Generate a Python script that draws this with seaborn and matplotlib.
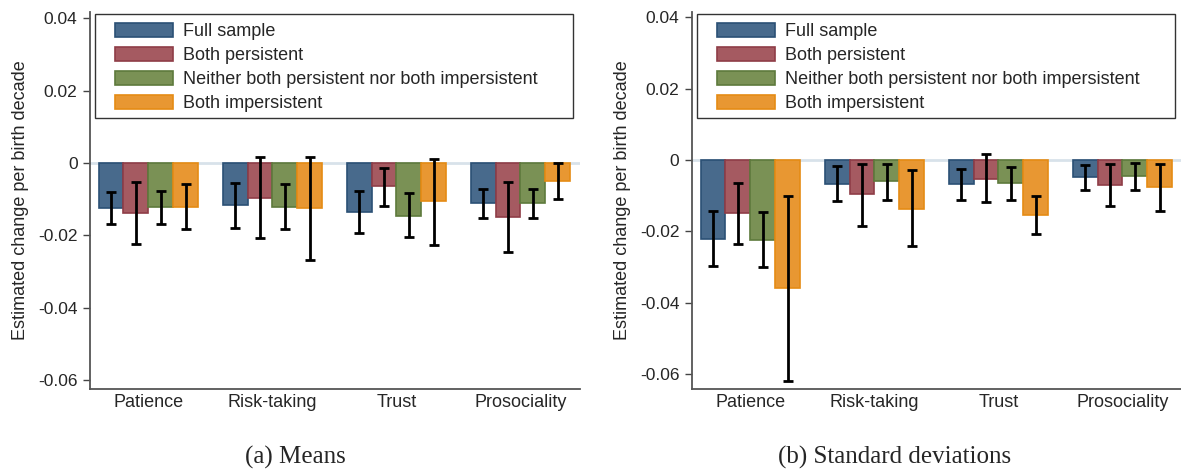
import pandas as pd
import numpy as np
import matplotlib
matplotlib.use("Agg")
import matplotlib.pyplot as plt
from matplotlib.patches import Rectangle
import seaborn as sns

sns.set_style("white")
plt.rcParams['font.family'] = ['Liberation Sans', 'DejaVu Sans']

traits = ["Patience", "Risk-taking", "Trust", "Prosociality"]
groups = ["Full sample", "Both persistent",
          "Neither both persistent nor both impersistent", "Both impersistent"]

# (a) Means: point estimate, lower and upper bound, one list per group
means_est = [[-0.0125, -0.0117, -0.0136, -0.0112],
             [-0.0139, -0.0098, -0.0065, -0.0150],
             [-0.0123, -0.0121, -0.0146, -0.0112],
             [-0.0121, -0.0126, -0.0106, -0.0050]]
means_lo = [[-0.0168, -0.0180, -0.0193, -0.0153],
            [-0.0225, -0.0209, -0.0118, -0.0245],
            [-0.0169, -0.0183, -0.0206, -0.0152],
            [-0.0182, -0.0269, -0.0227, -0.0100]]
means_hi = [[-0.0081, -0.0057, -0.0079, -0.0073],
            [-0.0053, 0.0016, -0.0015, -0.0053],
            [-0.0078, -0.0058, -0.0084, -0.0073],
            [-0.0059, 0.0016, 0.0012, 0.0000]]

# (b) Standard deviations
sds_est = [[-0.0221, -0.0066, -0.0068, -0.0048],
           [-0.0149, -0.0096, -0.0052, -0.0070],
           [-0.0223, -0.0060, -0.0065, -0.0044],
           [-0.0359, -0.0136, -0.0154, -0.0076]]
sds_lo = [[-0.0297, -0.0116, -0.0111, -0.0085],
          [-0.0236, -0.0184, -0.0119, -0.0130],
          [-0.0300, -0.0111, -0.0111, -0.0083],
          [-0.0619, -0.0242, -0.0208, -0.0142]]
sds_hi = [[-0.0144, -0.0018, -0.0025, -0.0013],
          [-0.0064, -0.0011, 0.0018, -0.0012],
          [-0.0145, -0.0010, -0.0020, -0.0007],
          [-0.0101, -0.0029, -0.0100, -0.0012]]

fills = ["#486a8c", "#a55a61", "#7a9155", "#e89732"]
edges = ["#2b5075", "#8f3d47", "#5e7a3c", "#e58b14"]


def make_df(est, lo, hi):
    rows = []
    for g, name in enumerate(groups):
        for t, trait in enumerate(traits):
            rows.append({"trait": trait, "group": name, "est": est[g][t],
                         "lo": lo[g][t], "hi": hi[g][t]})
    return pd.DataFrame(rows)


fig = plt.figure(figsize=(11.81, 4.70), dpi=100)
ax1 = fig.add_axes([90 / 1181, 81 / 470, 490 / 1181, 377 / 470])
ax2 = fig.add_axes([692 / 1181, 81 / 470, 490 / 1181, 377 / 470])

panels = [(ax1, make_df(means_est, means_lo, means_hi), (-0.0625, 0.0417)),
          (ax2, make_df(sds_est, sds_lo, sds_hi), (-0.0642, 0.0415))]

for ax, df, ylim in panels:
    ax.axhline(0, color="#d8e2ea", lw=2, zorder=0)
    sns.barplot(data=df, x="trait", y="est", hue="group", order=traits,
                hue_order=groups, palette=fills, errorbar=None, width=0.8,
                saturation=1, ax=ax, zorder=2)
    # edge colours per group, then error bars at each bar's centre
    bar_conts = list(ax.containers)
    for g, cont in enumerate(bar_conts):
        sub = df[df["group"] == groups[g]].set_index("trait").loc[traits]
        xs = []
        for p in cont.patches:
            p.set_edgecolor(edges[g])
            p.set_linewidth(1.2)
            xs.append(p.get_x() + p.get_width() / 2)
        xs = np.array(xs)
        ax.errorbar(xs, sub["est"], yerr=[sub["est"] - sub["lo"], sub["hi"] - sub["est"]],
                    fmt="none", ecolor="black", elinewidth=2, capsize=3.5,
                    capthick=2, zorder=4)

    ax.set_xlim(-0.47, 3.48)
    ax.set_ylim(*ylim)
    ax.set_yticks([0.04, 0.02, 0, -0.02, -0.04, -0.06])
    ax.set_yticklabels(["0.04", "0.02", "0", "-0.02", "-0.04", "-0.06"])
    ax.tick_params(axis="y", left=True, length=5, width=1, color="#444444",
                   labelsize=12.5, pad=4)
    ax.tick_params(axis="x", bottom=False, labelsize=13, pad=0)
    ax.set_xlabel("")
    ax.set_ylabel("Estimated change per birth decade", fontsize=13)
    ax.yaxis.set_label_coords(-0.125, 0.5)
    sns.despine(ax=ax)
    for s in ["left", "bottom"]:
        ax.spines[s].set_color("#555555")
        ax.spines[s].set_linewidth(1.3)

    handles, labels = ax.get_legend_handles_labels()
    for h, ec in zip(handles, edges):
        h.set_edgecolor(ec)
        h.set_linewidth(1.2)
    ax.legend(handles, labels, loc="upper left",
              bbox_to_anchor=(25 / 490, 1 - 11 / 377),
              fontsize=13, frameon=False, handlelength=3.2, handleheight=0.83,
              labelspacing=0.36, borderpad=0, handletextpad=0.55,
              borderaxespad=0)
    # legend frame box
    ax.add_patch(Rectangle((5 / 490, 271 / 377), 478 / 490, 104 / 377,
                           transform=ax.transAxes, fill=False,
                           edgecolor="#333333", lw=1, zorder=5, clip_on=False))

fig.text(295 / 1181, 1 - 457 / 470, "(a) Means", family="Liberation Serif",
         fontsize=18, ha="center", va="center")
fig.text(895 / 1181, 1 - 457 / 470, "(b) Standard deviations",
         family="Liberation Serif", fontsize=18, ha="center", va="center")

fig.savefig("out.png", dpi=100)
